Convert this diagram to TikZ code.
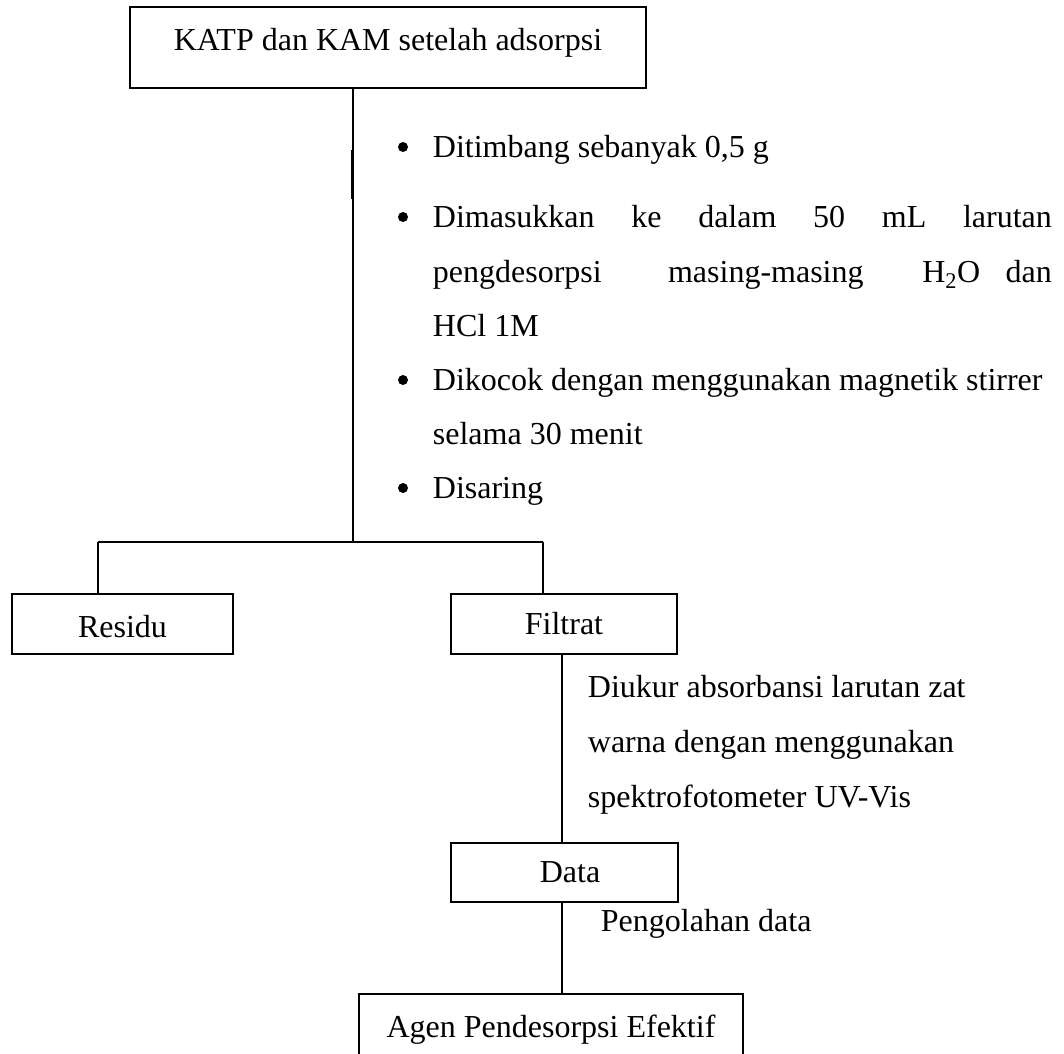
\documentclass[tikz,border=0pt]{standalone}
\usepackage{fontspec}
\setmainfont{Liberation Serif}
\begin{document}
\begin{tikzpicture}[x=1pt,y=-1pt,line width=1.8pt,
  box/.style={draw, rectangle, inner sep=0pt, anchor=base, font=\fontsize{32}{35}\selectfont},
  txt/.style={inner sep=0pt, anchor=base west, font=\fontsize{32}{35}\selectfont},
  bul/.style={circle, fill, inner sep=0pt, minimum size=10pt}]
\fill[white] (0,0) rectangle (1064,1053);
\useasboundingbox (0,0) rectangle (1064,1053);
% boxes
\node[box, minimum width=516pt, text height=43pt, text depth=38pt] (top) at (388,50) {KATP dan KAM setelah adsorpsi};
\node[box, minimum width=221pt, text height=43pt, text depth=17pt] (res) at (122.5,637) {Residu};
\node[box, minimum width=226pt, text height=40pt, text depth=20pt] (fil) at (564,634) {Filtrat};
\node[box, minimum width=227pt, text height=39pt, text depth=20pt] (dat) at (564.5,882) {\hspace*{11pt}Data};
\node[box, minimum width=384pt, text height=43pt, text depth=30pt] (agen) at (551,1037) {Agen Pendesorpsi Efektif};
% bullet list
\node[bul] (b1) at (403,147) {};
\node[bul] (b2) at (403,217) {};
\node[bul] (b3) at (403,380) {};
\node[bul] (b4) at (403,488) {};
\node[txt] (t1) at (432,157) {Ditimbang sebanyak 0,5 g};
\node[txt] (t2) at (432,227) {\makebox[619pt][l]{Dimasukkan\hfill ke\hfill dalam\hfill 50\hfill mL\hfill larutan}};
\node[txt] (t3) at (432,282) {\makebox[619pt][l]{pengdesorpsi\hspace{\stretch{2.6}}masing-masing\hspace{\stretch{2.3}}H\textsubscript{2}O\hspace{\stretch{1}}dan}};
\node[txt] (t4) at (432,336) {HCl 1M};
\node[txt] (t5) at (432,390) {Dikocok dengan menggunakan magnetik stirrer};
\node[txt] (t6) at (432,444) {selama 30 menit};
\node[txt] (t7) at (432,498) {Disaring};
% other texts
\node[txt] (d1) at (587,697) {Diukur absorbansi larutan zat};
\node[txt] (d2) at (587,752) {warna dengan menggunakan};
\node[txt] (d3) at (587,807) {spektrofotometer UV-Vis};
\node[txt] (p1) at (600,931) {Pengolahan data};
% connectors
\coordinate (j1) at (353,542);
\coordinate (jl) at (98,542);
\coordinate (jr) at (543,542);
\coordinate (vx) at (562,0);
\coordinate (o1) at (351.5,150);
\coordinate (o2) at (351.5,199);
\draw (top.south -| j1) -- (j1);
\draw (o1) -- (o2);
\draw (jl) -- (jr);
\draw (jl) -- (jl |- res.north);
\draw (jr) -- (jr |- fil.north);
\draw (fil.south -| vx) -- (dat.north -| vx);
\draw (dat.south -| vx) -- (agen.north -| vx);
\end{tikzpicture}
\end{document}
